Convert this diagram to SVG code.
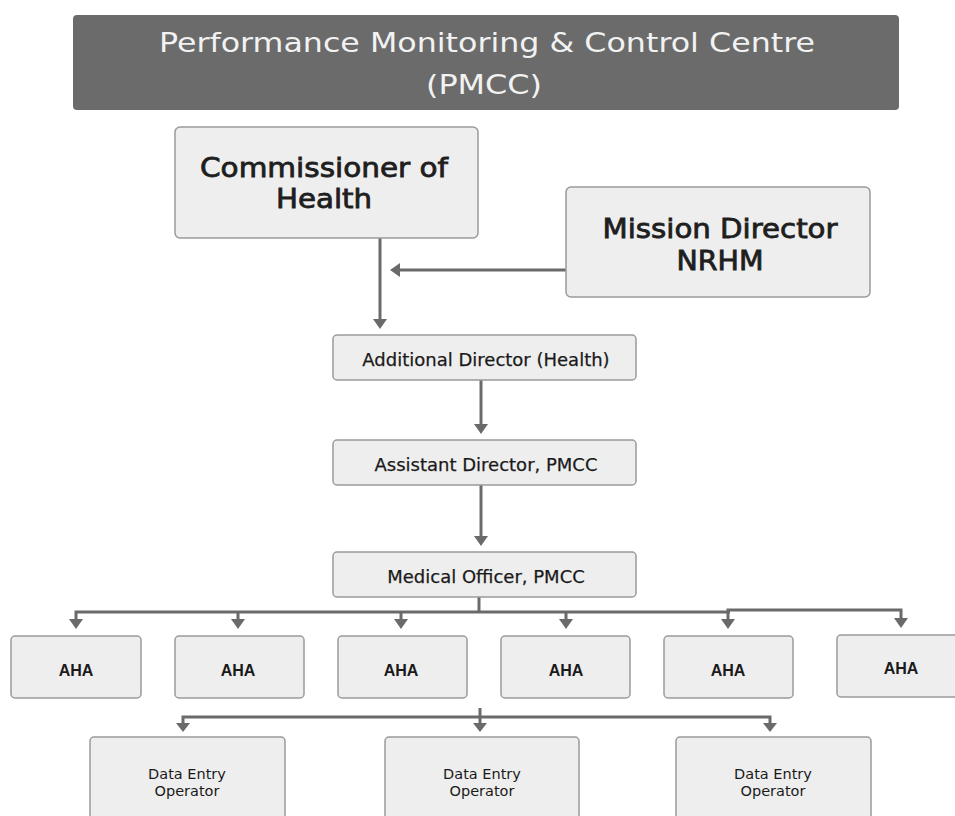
<svg xmlns="http://www.w3.org/2000/svg" width="955" height="816" viewBox="0 0 955 816">
  <defs>
    <style>
      .box { fill: #eeeeee; stroke: #9a9a9a; stroke-width: 1.5; }
      .txt { font-family: "DejaVu Sans", Verdana, sans-serif; fill: #1a1a1a; text-anchor: middle; }
      .head { font-size: 27px; fill: #f2f2f2; }
      .big { font-size: 26px; fill: #1e1e1e; stroke: #1e1e1e; stroke-width: 0.8; }
      .mid { font-size: 18px; stroke: #1a1a1a; stroke-width: 0.25; }
      .sml { font-size: 14.5px; }
      .aha { font-family: "Liberation Sans", Arial, sans-serif; font-size: 16px; font-weight: bold; fill: #1a1a1a; text-anchor: middle; }
      .ln { fill: none; stroke: #6a6a6a; stroke-width: 3; }
      .hd { fill: #6a6a6a; }
    </style>
  </defs>
  <rect width="955" height="816" fill="#ffffff"/>

  <!-- title banner -->
  <g id="title">
    <rect x="73" y="15" width="826" height="95" rx="4" fill="#6b6b6b"/>
    <text class="txt head" x="487" y="52" textLength="656" lengthAdjust="spacingAndGlyphs">Performance Monitoring &amp; Control Centre</text>
    <text class="txt head" x="484" y="94" textLength="116" lengthAdjust="spacingAndGlyphs">(PMCC)</text>
  </g>

  <!-- connectors -->
  <g id="connectors">
    <path class="ln" d="M380,238 V322"/>
    <path class="hd" d="M373,319 L387,319 L380,329 Z"/>
    <path class="ln" d="M566,270 H398"/>
    <path class="hd" d="M400,263 L400,277 L390,270 Z"/>
    <path class="ln" d="M481,380 V426"/>
    <path class="hd" d="M474,424 L488,424 L481,434 Z"/>
    <path class="ln" d="M481,485 V538"/>
    <path class="hd" d="M474,536 L488,536 L481,546 Z"/>
    <!-- Medical Officer to AHA row -->
    <path class="ln" d="M479,597 V612"/>
    <path class="ln" d="M76,622 V612 H730"/>
    <path class="ln" d="M728,622 V610 H901 V620"/>
    <path class="ln" d="M238,612 V621 M401,612 V621 M566,612 V621"/>
    <path class="hd" d="M69,619 L83,619 L76,629 Z"/>
    <path class="hd" d="M231,619 L245,619 L238,629 Z"/>
    <path class="hd" d="M394,619 L408,619 L401,629 Z"/>
    <path class="hd" d="M559,619 L573,619 L566,629 Z"/>
    <path class="hd" d="M721,619 L735,619 L728,629 Z"/>
    <path class="hd" d="M894,618 L908,618 L901,628 Z"/>
    <!-- AHA row to Data Entry row -->
    <path class="ln" d="M480,708 V723"/>
    <path class="ln" d="M183,725 V717 H770 V725"/>
    <path class="hd" d="M176,723 L190,723 L183,732 Z"/>
    <path class="hd" d="M473,723 L487,723 L480,732 Z"/>
    <path class="hd" d="M763,723 L777,723 L770,732 Z"/>
  </g>

  <g id="commissioner">
    <rect class="box" x="175" y="127" width="303" height="111" rx="5"/>
    <text class="txt big" x="324" y="177" textLength="248" lengthAdjust="spacingAndGlyphs">Commissioner of</text>
    <text class="txt big" x="324" y="208" textLength="96" lengthAdjust="spacingAndGlyphs">Health</text>
  </g>

  <g id="mission-director">
    <rect class="box" x="566" y="187" width="304" height="110" rx="5"/>
    <text class="txt big" x="720" y="238" textLength="235" lengthAdjust="spacingAndGlyphs">Mission Director</text>
    <text class="txt big" x="720" y="270" textLength="87" lengthAdjust="spacingAndGlyphs">NRHM</text>
  </g>

  <g id="additional-director">
    <rect class="box" x="333" y="335" width="303" height="45" rx="4"/>
    <text class="txt mid" x="486" y="366">Additional Director (Health)</text>
  </g>

  <g id="assistant-director">
    <rect class="box" x="333" y="440" width="303" height="45" rx="4"/>
    <text class="txt mid" x="486" y="471">Assistant Director, PMCC</text>
  </g>

  <g id="medical-officer">
    <rect class="box" x="333" y="552" width="303" height="45" rx="4"/>
    <text class="txt mid" x="486" y="583">Medical Officer, PMCC</text>
  </g>

  <g id="aha-1"><rect class="box" x="11" y="636" width="130" height="62" rx="4"/><text class="aha" x="76" y="676">AHA</text></g>
  <g id="aha-2"><rect class="box" x="175" y="636" width="129" height="62" rx="4"/><text class="aha" x="238" y="676">AHA</text></g>
  <g id="aha-3"><rect class="box" x="338" y="636" width="129" height="62" rx="4"/><text class="aha" x="401" y="676">AHA</text></g>
  <g id="aha-4"><rect class="box" x="501" y="636" width="129" height="62" rx="4"/><text class="aha" x="566" y="676">AHA</text></g>
  <g id="aha-5"><rect class="box" x="664" y="636" width="129" height="62" rx="4"/><text class="aha" x="728" y="676">AHA</text></g>
  <g id="aha-6"><rect class="box" x="837" y="635" width="130" height="62" rx="4"/><text class="aha" x="901" y="674">AHA</text></g>

  <g id="deo-1">
    <rect class="box" x="90" y="737" width="195" height="90" rx="4"/>
    <text class="txt sml" x="187" y="779">Data Entry</text>
    <text class="txt sml" x="187" y="796">Operator</text>
  </g>
  <g id="deo-2">
    <rect class="box" x="385" y="737" width="194" height="90" rx="4"/>
    <text class="txt sml" x="482" y="779">Data Entry</text>
    <text class="txt sml" x="482" y="796">Operator</text>
  </g>
  <g id="deo-3">
    <rect class="box" x="676" y="737" width="195" height="90" rx="4"/>
    <text class="txt sml" x="773" y="779">Data Entry</text>
    <text class="txt sml" x="773" y="796">Operator</text>
  </g>
</svg>
